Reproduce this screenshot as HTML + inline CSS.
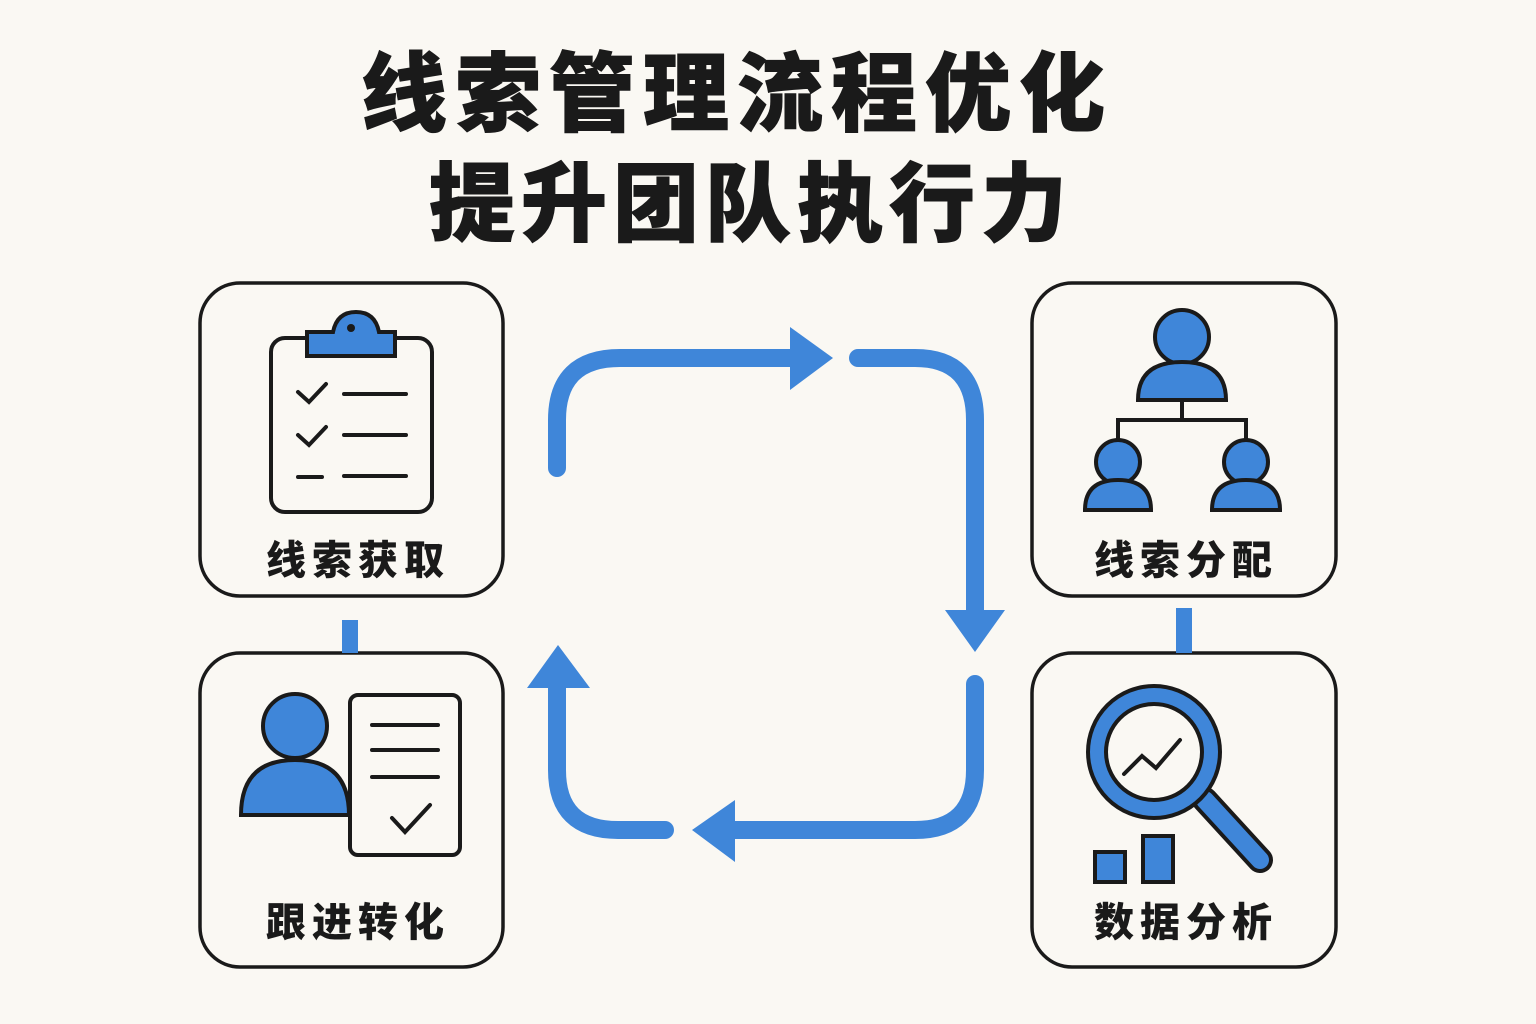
<!DOCTYPE html>
<html><head><meta charset="utf-8"><style>
html,body{margin:0;padding:0;background:#faf8f3;}
svg{display:block}
text{font-family:"Liberation Sans","Noto Sans CJK SC",sans-serif;font-weight:900;fill:#1a1a1a}
</style></head><body>
<svg width="1536" height="1024" viewBox="0 0 1536 1024" xmlns="http://www.w3.org/2000/svg">
<rect width="1536" height="1024" fill="#faf8f3"/>
<text x="737" y="124" font-size="86" text-anchor="middle" letter-spacing="8" stroke="#1a1a1a" stroke-width="1">线索管理流程优化</text>
<text x="751" y="234" font-size="86" text-anchor="middle" letter-spacing="6" stroke="#1a1a1a" stroke-width="1">提升团队执行力</text>

<g fill="none" stroke="#1a1a1a" stroke-width="3.5">
<rect x="200" y="283" width="303" height="313" rx="40"/>
<rect x="200" y="653" width="303" height="314" rx="40"/>
<rect x="1032" y="283" width="304" height="313" rx="40"/>
<rect x="1032" y="653" width="304" height="314" rx="40"/>
</g>
<rect x="342" y="620" width="16" height="33" fill="#3f86d9"/>
<rect x="1176" y="608" width="16" height="45" fill="#3f86d9"/>

<text x="358" y="574" font-size="40" text-anchor="middle" letter-spacing="6">线索获取</text>
<text x="358" y="936" font-size="40" text-anchor="middle" letter-spacing="6">跟进转化</text>
<text x="1186" y="574" font-size="40" text-anchor="middle" letter-spacing="6">线索分配</text>
<text x="1186" y="936" font-size="40" text-anchor="middle" letter-spacing="6">数据分析</text>

<g fill="none" stroke="#3f86d9" stroke-width="18" stroke-linecap="round">
<path d="M557 468 V420 Q557 358 620 358 H795"/>
<path d="M858 358 H915 Q975 358 975 420 V612"/>
<path d="M975 684 V770 Q975 830 915 830 H735"/>
<path d="M665 830 H618 Q557 830 557 770 V688"/>
</g>
<g fill="#3f86d9">
<polygon points="790,327 833,358 790,390"/>
<polygon points="945,610 1005,610 975,652"/>
<polygon points="735,800 735,862 692,830"/>
<polygon points="527,688 590,688 558,645"/>
</g>

<g stroke="#1a1a1a" stroke-width="4" fill="none" stroke-linecap="round">
<rect x="271" y="338" width="161" height="174" rx="14" fill="#faf8f3"/>
<path d="M307 332 H333 Q337 312 356 312 Q375 312 379 332 H395 V356 H307 Z" fill="#3f86d9"/>
<path d="M298 392 L309 402 L326 384 M298 435 L309 445 L326 427 M298 477 H322"/>
<path d="M344 394 H406 M344 435 H406 M344 476 H406"/>
</g>
<circle cx="351" cy="328" r="4" fill="#1a1a1a"/>

<g stroke="#1a1a1a" stroke-width="4" fill="#3f86d9">
<circle cx="1182" cy="337" r="27"/>
<path d="M1138 400 Q1138 362 1182 362 Q1226 362 1226 400 Z"/>
<path d="M1182 400 V420 M1118 440 V420 H1246 V440" fill="none"/>
<circle cx="1118" cy="462" r="22"/>
<path d="M1085 510 Q1085 480 1118 480 Q1151 480 1151 510 Z"/>
<circle cx="1246" cy="462" r="22"/>
<path d="M1212 510 Q1212 480 1246 480 Q1280 480 1280 510 Z"/>
</g>

<g stroke="#1a1a1a" stroke-width="4">
<rect x="350" y="695" width="110" height="160" rx="8" fill="#faf8f3"/>
<path d="M372 725 H438 M372 750 H438 M372 777 H438 M392 818 L405 832 L430 805" fill="none" stroke-linecap="round"/>
<circle cx="295" cy="726" r="32" fill="#3f86d9"/>
<path d="M241 815 Q241 760 295 760 Q349 760 349 815 Z" fill="#3f86d9"/>
</g>

<g stroke="#1a1a1a" stroke-width="4">
<path d="M1205 800 L1260 860" stroke="#1a1a1a" stroke-width="26" stroke-linecap="round"/>
<path d="M1205 800 L1260 860" stroke="#3f86d9" stroke-width="18" stroke-linecap="round"/>
<circle cx="1154" cy="752" r="66" fill="#3f86d9"/>
<circle cx="1154" cy="752" r="48" fill="#faf8f3"/>
<path d="M1124 774 L1142 756 L1156 768 L1180 740" fill="none" stroke-linecap="round"/>
<rect x="1095" y="852" width="30" height="30" fill="#3f86d9"/>
<rect x="1143" y="836" width="30" height="46" fill="#3f86d9"/>
</g>
</svg>
</body></html>
